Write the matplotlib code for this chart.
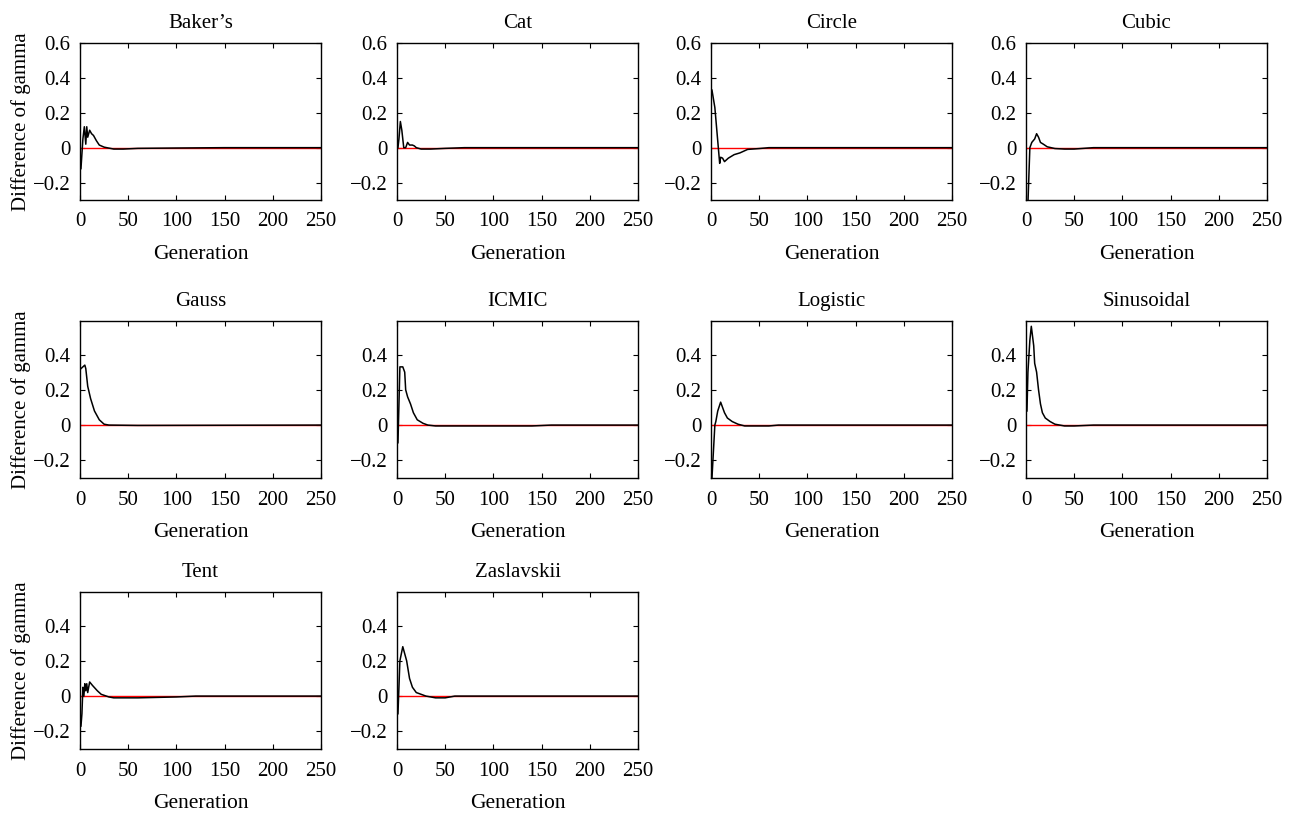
import numpy as np
import matplotlib
matplotlib.use('Agg')
import matplotlib.pyplot as plt

plt.rcParams['font.family'] = ['Liberation Serif', 'DejaVu Serif']
plt.rcParams['font.size'] = 15

names = ['Baker\u2019s', 'Cat', 'Circle', 'Cubic', 'Gauss', 'ICMIC',
         'Logistic', 'Sinusoidal', 'Tent', 'Zaslavskii']

# generation / difference of gamma (sparse points)
bakers_x = [1, 3, 4.5, 6, 7, 8, 10, 12, 14, 17, 20, 25, 35, 45, 60, 100, 150, 250]
bakers_y = [-0.12, 0.05, 0.12, 0.02, 0.12, 0.06, 0.10, 0.08, 0.07, 0.04, 0.015, 0.003,
            -0.008, -0.008, -0.004, -0.002, 0.0, 0.0]

cat_x = [1, 2, 3.5, 5, 7, 9, 11, 13, 16, 18, 20, 25, 35, 50, 70, 250]
cat_y = [0.0, 0.05, 0.15, 0.10, 0.0, 0.0, 0.03, 0.015, 0.015, 0.01, 0.0,
         -0.008, -0.008, -0.004, 0.0, 0.0]

circle_x = [1, 4, 9, 10, 12, 14, 18, 24, 30, 38, 50, 60, 250]
circle_y = [0.33, 0.23, -0.09, -0.055, -0.06, -0.08, -0.06, -0.04, -0.03, -0.01,
            -0.005, 0.0, 0.0]

cubic_x = [1, 2, 4, 6, 9, 11, 13, 15, 18, 22, 30, 40, 50, 70, 250]
cubic_y = [-0.32, -0.32, 0.0, 0.03, 0.05, 0.08, 0.06, 0.03, 0.02, 0.005, -0.005,
           -0.008, -0.008, 0.0, 0.0]

gauss_x = [1, 3, 5, 6, 8, 11, 15, 20, 25, 30, 60, 250]
gauss_y = [0.32, 0.33, 0.34, 0.32, 0.22, 0.15, 0.08, 0.03, 0.005, 0.0, -0.002, 0.0]

icmic_x = [1, 3, 6, 8, 9, 10, 11, 14, 17, 21, 27, 32, 40, 140, 160, 250]
icmic_y = [-0.10, 0.33, 0.33, 0.30, 0.20, 0.18, 0.16, 0.12, 0.07, 0.03, 0.01, 0.0,
           -0.005, -0.005, 0.0, 0.0]

logistic_x = [1, 4, 5, 7, 10, 12, 14, 17, 22, 28, 35, 60, 70, 250]
logistic_y = [-0.30, 0.0, 0.02, 0.08, 0.13, 0.10, 0.07, 0.04, 0.02, 0.005, -0.005,
              -0.005, 0.0, 0.0]

sinus_x = [1, 2, 4, 5.5, 8, 9, 11, 13, 15, 17, 20, 25, 30, 40, 50, 70, 250]
sinus_y = [0.08, 0.30, 0.48, 0.56, 0.45, 0.35, 0.30, 0.20, 0.12, 0.07, 0.04, 0.02,
           0.005, -0.005, -0.005, 0.0, 0.0]

tent_x = [1, 2, 3, 4, 5, 6, 7, 8, 10, 13, 18, 22, 30, 35, 60, 100, 120, 250]
tent_y = [-0.17, -0.10, 0.05, 0.0, 0.07, 0.03, 0.07, 0.02, 0.08, 0.06, 0.03, 0.01,
          -0.005, -0.01, -0.01, -0.005, 0.0, 0.0]

zas_x = [1, 3, 6, 9, 10, 13, 16, 20, 25, 30, 40, 50, 60, 250]
zas_y = [-0.10, 0.20, 0.28, 0.22, 0.20, 0.10, 0.05, 0.02, 0.01, 0.0, -0.01, -0.01,
         0.0, 0.0]

series = [(bakers_x, bakers_y), (cat_x, cat_y), (circle_x, circle_y),
          (cubic_x, cubic_y), (gauss_x, gauss_y), (icmic_x, icmic_y),
          (logistic_x, logistic_y), (sinus_x, sinus_y), (tent_x, tent_y),
          (zas_x, zas_y)]

W, H = 1293, 813
fig = plt.figure(figsize=(W / 100, H / 100), dpi=100)

lefts = [80, 397, 711, 1026]
tops = [43, 321, 592]
aw, ah = 241, 157

for k, (name, (x, y)) in enumerate(zip(names, series)):
    r, c = divmod(k, 4)
    ax = fig.add_axes([lefts[c] / W, 1 - (tops[r] + ah) / H, aw / W, ah / H])
    ax.plot([0, 250], [0, 0], color='red', lw=1)
    ax.plot(x, y, color='black', lw=1.1)
    ax.set_xlim(0, 250)
    if r == 0:
        ax.set_ylim(-0.3, 0.6)
        ax.set_yticks([-0.2, 0, 0.2, 0.4, 0.6])
        ax.set_yticklabels(['\u22120.2', '0', '0.2', '0.4', '0.6'])
    else:
        ax.set_ylim(-0.3, 0.59)
        ax.set_yticks([-0.2, 0, 0.2, 0.4])
        ax.set_yticklabels(['\u22120.2', '0', '0.2', '0.4'])
    ax.set_xticks([0, 50, 100, 150, 200, 250])
    ax.tick_params(direction='in', top=True, right=True, length=3.5, width=0.8,
                   labelsize=15)
    ax.tick_params(axis='x', pad=9)
    ax.tick_params(axis='y', pad=7)
    ax.set_title(name, fontsize=15, pad=11)
    ax.set_xlabel('Generation', fontsize=15.5, labelpad=10)
    if c == 0:
        ax.set_ylabel('Difference of gamma', fontsize=15, labelpad=1)
    for s in ax.spines.values():
        s.set_linewidth(1.0)

fig.savefig('out.png', dpi=100)
